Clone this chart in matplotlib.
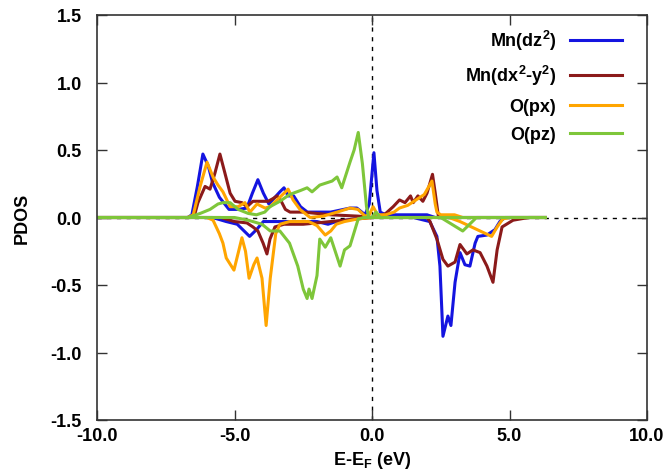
import matplotlib
matplotlib.use("Agg")
import matplotlib.pyplot as plt

plt.rcParams['font.family'] = ['Liberation Sans', 'DejaVu Sans']
plt.rcParams['font.weight'] = 'bold'
plt.rcParams['mathtext.fontset'] = 'custom'
plt.rcParams['mathtext.rm'] = 'Liberation Sans:bold'
plt.rcParams['mathtext.it'] = 'Liberation Sans:bold'
plt.rcParams['mathtext.bf'] = 'Liberation Sans:bold'

labels = ["Mn(dz$^2$)", "Mn(dx$^2$-y$^2$)", "O(px)", "O(pz)"]
colors = ["#1414e0", "#8b1a1a", "#ffa500", "#7ec63a"]

# Mn dz2
dz2_up_E = [-10, -6.7, -6.55, -6.35, -6.15, -5.95, -5.8, -5.55, -5.2, -4.85, -4.55, -4.35, -4.15, -3.95, -3.75,
            -3.35, -3.2, -3.05, -2.85, -2.6, -2.35, -1.5, -0.8, -0.55, -0.25, -0.1, 0.07, 0.18, 0.3, 0.5, 1.5, 2.0, 2.3, 6.3]
dz2_up_V = [0, 0, 0.02, 0.23, 0.47, 0.38, 0.26, 0.15, 0.06, 0.06, 0.07, 0.18, 0.28, 0.18, 0.10,
            0.19, 0.22, 0.16, 0.16, 0.08, 0.04, 0.04, 0.07, 0.07, 0.02, 0.10, 0.48, 0.20, 0.04, 0.02, 0.02, 0.02, 0, 0]
dz2_dn_E = [-10, -5.8, -5.3, -4.9, -4.6, -4.45, -4.2, -3.95, -3.5, -2.5, -2.0, -1.6, -1.3, -0.6, -0.2, 1.5,
            2.1, 2.36, 2.47, 2.58, 2.76, 2.87, 3.02, 3.2, 3.38, 3.56, 3.75, 3.85, 4.18, 4.47, 4.65, 4.84, 6.3]
dz2_dn_V = [0, 0, -0.03, -0.05, -0.11, -0.14, -0.09, -0.03, -0.03, -0.03, -0.03, -0.05, -0.03, -0.01, 0, 0,
            -0.03, -0.14, -0.36, -0.88, -0.73, -0.80, -0.48, -0.26, -0.35, -0.36, -0.19, -0.14, -0.13, -0.09, -0.03, 0, 0]

# Mn dx2-y2
dx2_up_E = [-10, -6.6, -6.45, -6.33, -6.07, -5.89, -5.71, -5.53, -5.35, -5.16, -4.98, -4.73, -4.55, -4.33, -4.0,
            -3.78, -3.6, -3.45, -3.3, -3.15, -2.98, -2.5, -1.5, -0.5, 0.0, 0.3, 0.5, 0.77, 1.0, 1.2, 1.4, 1.5,
            1.67, 1.85, 2.0, 2.2, 2.3, 2.42, 2.6, 6.3]
dx2_up_V = [0, 0, 0.02, 0.11, 0.23, 0.21, 0.33, 0.47, 0.33, 0.18, 0.12, 0.11, 0.08, 0.12, 0.12,
            0.12, 0.14, 0.16, 0.12, 0.06, 0.04, 0.04, 0.02, 0.01, 0.0, 0.01, 0.03, 0.08, 0.13, 0.11, 0.16, 0.11,
            0.16, 0.12, 0.18, 0.32, 0.18, 0.0, 0, 0]
dx2_dn_E = [-10, -5.5, -5.0, -4.55, -4.33, -4.15, -3.96, -3.82, -3.71, -3.53, -3.2, -2.5, -1.5, -0.5, 0, 2.0,
            2.11, 2.36, 2.58, 2.76, 3.02, 3.2, 3.45, 3.67, 3.93, 4.18, 4.4, 4.55, 4.73, 5.13, 5.7, 6.3]
dx2_dn_V = [0, 0, -0.03, -0.04, -0.07, -0.10, -0.19, -0.27, -0.16, -0.07, -0.05, -0.05, -0.03, -0.01, 0, 0,
            -0.03, -0.16, -0.31, -0.36, -0.33, -0.20, -0.27, -0.24, -0.26, -0.36, -0.48, -0.24, -0.07, -0.02, 0, 0]

# O px
px_up_E = [-10, -6.7, -6.5, -6.25, -6.0, -5.78, -5.6, -5.42, -5.16, -4.87, -4.62, -4.44, -4.18, -3.89, -3.71,
           -3.35, -3.05, -2.87, -2.62, -2.25, -1.78, -1.27, -0.8, -0.51, -0.25, -0.1, 0.04, 0.2, 0.5, 0.8, 1.0,
           1.3, 1.6, 1.9, 2.18, 2.3, 2.36, 2.5, 3.0, 3.3, 6.3]
px_up_V = [0, 0, 0.02, 0.23, 0.41, 0.30, 0.24, 0.19, 0.08, 0.08, 0.11, 0.04, 0.10, 0.07, 0.08,
           0.15, 0.21, 0.13, 0.06, 0.0, 0.01, 0.04, 0.07, 0.06, 0.01, 0.02, 0.08, 0.02, 0.02, 0.04, 0.07,
           0.09, 0.13, 0.17, 0.27, 0.10, 0.04, 0.02, 0.02, 0, 0]
px_dn_E = [-10, -6.0, -5.78, -5.55, -5.42, -5.3, -5.02, -4.85, -4.73, -4.6, -4.47, -4.3, -4.18, -4.0, -3.85,
           -3.7, -3.5, -3.35, -3.0, -2.3, -2.0, -1.7, -1.5, -1.3, -1.0, -0.5, 0, 2.8, 3.2, 3.93, 4.35, 4.55,
           4.76, 5.0, 6.3]
px_dn_V = [0, 0, -0.02, -0.12, -0.19, -0.30, -0.39, -0.25, -0.15, -0.25, -0.45, -0.35, -0.30, -0.45, -0.80,
           -0.45, -0.12, -0.05, -0.03, -0.03, -0.06, -0.13, -0.10, -0.05, -0.03, -0.01, 0, 0, -0.03, -0.10, -0.14, -0.07,
           -0.01, 0, 0]

# O pz
pz_up_E = [-10, -6.7, -6.25, -5.89, -5.6, -5.42, -5.16, -4.87, -4.5, -4.2, -3.9, -3.71, -3.35, -3.0, -2.6,
           -2.36, -2.18, -1.9, -1.6, -1.45, -1.27, -1.1, -0.8, -0.65, -0.5, -0.35, -0.2, -0.12, 0.0, 0.15, 0.3, 6.3]
pz_up_V = [0, 0, 0.03, 0.06, 0.10, 0.11, 0.11, 0.06, 0.03, 0.02, 0.04, 0.08, 0.12, 0.17, 0.20,
           0.22, 0.19, 0.24, 0.26, 0.27, 0.30, 0.22, 0.41, 0.50, 0.63, 0.40, 0.08, 0.0, 0.0, 0.04, 0.0, 0]
pz_dn_E = [-10, -5.0, -4.5, -4.0, -3.7, -3.35, -3.0, -2.7, -2.5, -2.36, -2.29, -2.18, -2.0, -1.9, -1.7, -1.5,
           -1.16, -1.0, -0.8, -0.5, -0.3, 2.5, 2.9, 3.3, 3.55, 3.8, 6.3]
pz_dn_V = [0, 0, -0.02, -0.05, -0.10, -0.10, -0.19, -0.36, -0.53, -0.60, -0.53, -0.60, -0.43, -0.16, -0.22, -0.15,
           -0.36, -0.24, -0.21, -0.01, 0, 0, -0.05, -0.10, -0.05, 0, 0]

series = [
    ((dz2_up_E, dz2_up_V), (dz2_dn_E, dz2_dn_V)),
    ((dx2_up_E, dx2_up_V), (dx2_dn_E, dx2_dn_V)),
    ((px_up_E, px_up_V), (px_dn_E, px_dn_V)),
    ((pz_up_E, pz_up_V), (pz_dn_E, pz_dn_V)),
]

fig = plt.figure(figsize=(6.68, 4.77), dpi=100)
ax = fig.add_axes([97/668, 56/477, 550/668, 405/477])

ax.axhline(0, color='black', lw=1.0, ls=(0, (3, 4)), zorder=1)
ax.axvline(0, color='black', lw=1.0, ls=(0, (3, 4)), zorder=1)

for (up, dn), c, lab in zip(series, colors, labels):
    ax.plot(up[0], up[1], color=c, lw=2.2, label=lab, zorder=2, solid_joinstyle='round')
    ax.plot(dn[0], dn[1], color=c, lw=2.2, zorder=2, solid_joinstyle='round')

ax.set_xlim(-10, 10)
ax.set_ylim(-1.5, 1.5)
ax.set_xticks([-10, -5, 0, 5, 10])
ax.set_xticklabels(["-10.0", "-5.0", "0.0", "5.0", "10.0"])
ax.set_yticks([-1.5, -1.0, -0.5, 0.0, 0.5, 1.0, 1.5])
ax.set_yticklabels(["-1.5", "-1.0", "-0.5", "0.0", "0.5", "1.0", "1.5"])
ax.tick_params(direction='in', top=True, right=True, length=7, width=1, labelsize=13, colors='#333333',
               labelcolor='black')
ax.tick_params(axis='y', pad=11)
ax.tick_params(axis='x', pad=5)
for s in ax.spines.values():
    s.set_color('#333333')
    s.set_linewidth(1.2)

ax.set_xlabel("E-E$_\\mathregular{F}$ (eV)", fontsize=13, fontweight='bold', labelpad=4)
ax.set_ylabel("PDOS", fontsize=13, fontweight='bold', labelpad=14)

leg = ax.legend(loc='upper right', bbox_to_anchor=(0.968, 0.985), borderaxespad=0.0,
                frameon=False, markerfirst=False, fontsize=13,
                handlelength=2.9, handletextpad=0.75, labelspacing=0.6)
for t in leg.get_texts():
    t.set_fontweight('bold')

fig.savefig("out.png", dpi=100, facecolor='white')
